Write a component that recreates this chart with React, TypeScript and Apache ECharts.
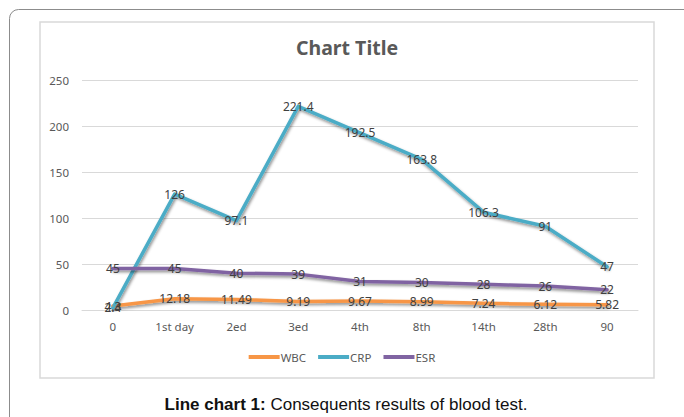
import React, { useEffect, useRef } from "react";
import * as echarts from "echarts";

const categories = ["0", "1st day", "2ed", "3ed", "4th", "8th", "14th", "28th", "90"];
const wbc = [4.3, 12.18, 11.49, 9.19, 9.67, 8.99, 7.24, 6.12, 5.82];
const crp = [2.4, 126, 97.1, 221.4, 192.5, 163.8, 106.3, 91, 47];
const esr = [45, 45, 40, 39, 31, 30, 28, 26, 22];
const seriesNames = ["WBC", "CRP", "ESR"];
const colors = ["#F79646", "#4BACC6", "#8064A2"];

export default function App() {
  const ref = useRef<HTMLDivElement>(null);
  useEffect(() => {
    if (!ref.current) return;
    const chart = echarts.init(ref.current, null, { renderer: "svg" });
    const data = [wbc, crp, esr];
    const font = "'Noto Sans', 'Open Sans', sans-serif";
    const capFont = "'Liberation Sans', Arial, sans-serif";
    chart.setOption({
      animation: false,
      title: {
        text: "Chart Title",
        left: 291,
        top: 32,
        textStyle: { fontSize: 19.5, fontWeight: "bold", color: "#595959", fontFamily: font },
      },
      legend: {
        top: 346,
        left: "center",
        icon: "rect",
        itemWidth: 31,
        itemHeight: 4,
        itemGap: 12,
        textStyle: { fontSize: 11.5, color: "#595959", fontFamily: font, padding: [0, 0, 0, -4] },
        data: seriesNames,
      },
      grid: { left: 82, right: 46, top: 80, bottom: 107 },
      xAxis: {
        type: "category",
        data: categories,
        boundaryGap: true,
        axisLine: { lineStyle: { color: "#d9d9d9", width: 1 } },
        axisTick: { show: false },
        axisLabel: { color: "#595959", fontSize: 11.5, fontFamily: font, margin: 10 },
      },
      yAxis: {
        type: "value",
        min: 0,
        max: 250,
        interval: 50,
        axisLine: { show: false },
        axisTick: { show: false },
        splitLine: { lineStyle: { color: "#d9d9d9" } },
        axisLabel: { color: "#595959", fontSize: 11.5, fontFamily: font, margin: 13 },
      },
      graphic: [
        {
          type: "rect",
          z: -10,
          shape: { x: 9.5, y: 9.5, width: 720, height: 460, r: 9 },
          style: { fill: "none", stroke: "#8c8c8c", lineWidth: 1 },
        },
        {
          type: "rect",
          z: -10,
          shape: { x: 40, y: 22, width: 614, height: 356 },
          style: { fill: "none", stroke: "#d9d9d9", lineWidth: 1.5 },
        },
        {
          type: "text",
          x: 346,
          y: 404,
          style: {
            text: "{b|Line chart 1:} Consequents results of blood test.",
            align: "center",
            verticalAlign: "middle",
            fontSize: 17,
            fontFamily: capFont,
            fill: "#111",
            rich: {
              b: { fontWeight: "bold", fontSize: 17, fontFamily: capFont, fill: "#111" },
            },
          },
        },
      ],
      series: seriesNames.map((n, i) => ({
        name: n,
        type: "line",
        data: data[i],
        symbol: "circle",
        symbolSize: 1,
        showSymbol: true,
        itemStyle: { color: colors[i] },
        lineStyle: {
          color: colors[i],
          width: 3.5,
          cap: "round",
          join: "round",
          shadowColor: "rgba(0,0,0,0.45)",
          shadowBlur: 3,
          shadowOffsetY: 2,
          shadowOffsetX: 1,
        },
        label: {
          show: true,
          position: "inside",
          color: "#404040",
          fontSize: 12,
          fontFamily: font,
        },
      })),
    });
    return () => chart.dispose();
  }, []);
  return (
    <div
      ref={ref}
      style={{ position: "fixed", left: 0, top: 0, width: 684, height: 417, background: "#fff" }}
    />
  );
}
